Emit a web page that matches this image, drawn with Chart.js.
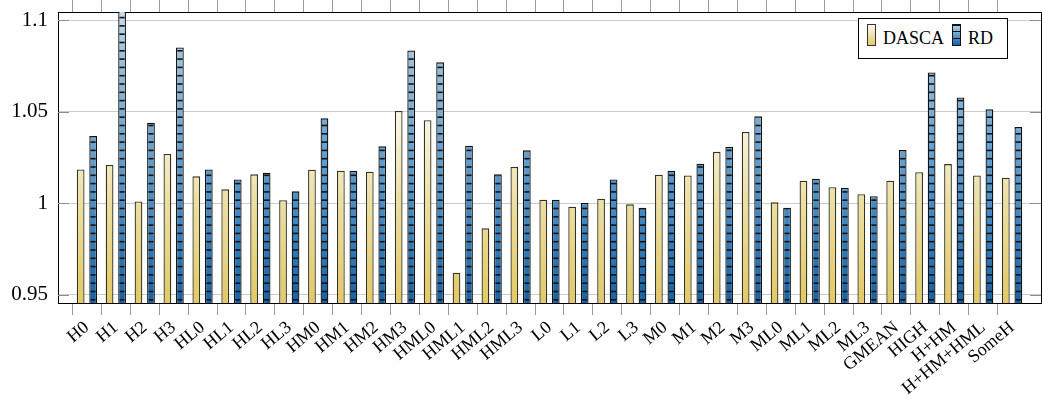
<!DOCTYPE html>
<html><head><meta charset="utf-8">
<script src="https://cdn.jsdelivr.net/npm/chart.js@4/dist/chart.umd.min.js"></script>
<style>
html,body{margin:0;padding:0;background:#fff;}
#wrap{position:relative;width:1042px;height:410px;}
#legend{position:absolute;left:858px;top:18px;width:150px;height:41px;border:1px solid #000;background:#fff;box-sizing:border-box;font-family:'Liberation Serif',serif;font-size:18px;color:#000;}
#legend span{position:absolute;line-height:18px;white-space:nowrap;}
.sw{position:absolute;width:9px;height:22px;border:1px solid #333;box-sizing:border-box;}
#swD{left:8px;top:5px;background:linear-gradient(to top,#e3cb68,#eee2ad 50%,#fbf9f0);}
#swR{left:93px;top:5px;border-color:#111;background:repeating-linear-gradient(to top,rgba(0,0,0,0) 0 5.5px,#111 5.5px 7px),linear-gradient(to top,#1563a6,#b9d3e7);}
</style></head>
<body>
<div id="wrap">
<canvas id="c" width="1042" height="410"></canvas>
<div id="legend">
  <div class="sw" id="swD"></div><span style="left:24px;top:10px">DASCA</span>
  <div class="sw" id="swR"></div><span style="left:109px;top:10px">RD</span>
</div>
</div>
<script>
const categories = ['H0','H1','H2','H3','HL0','HL1','HL2','HL3','HM0','HM1','HM2','HM3','HML0','HML1','HML2','HML3','L0','L1','L2','L3','M0','M1','M2','M3','ML0','ML1','ML2','ML3','GMEAN','HIGH','H+HM','H+HM+HML','SomeH'];
const dasca = [1.0185,1.0209,1.0010,1.0269,1.0147,1.0076,1.0158,1.0017,1.0183,1.0178,1.0172,1.0504,1.0454,0.9620,0.9863,1.0199,1.0019,0.9981,1.0025,0.9994,1.0156,1.0152,1.0281,1.0389,1.0005,1.0123,1.0088,1.0049,1.0123,1.0169,1.0214,1.0152,1.0139];
const rd = [1.0367,1.1150,1.0440,1.0851,1.0185,1.0130,1.0167,1.0065,1.0464,1.0178,1.0311,1.0835,1.0770,1.0314,1.0158,1.0289,1.0019,1.0001,1.0130,0.9976,1.0178,1.0216,1.0309,1.0475,0.9976,1.0134,1.0083,1.0038,1.0291,1.0715,1.0578,1.0513,1.0416];
const yTicks = [0.95, 1, 1.05, 1.1];
const yMin = 0.9455, yMax = 1.1045;

const labels = [''].concat(categories, ['']);
const pad = a => [null].concat(a, [null]);

const cache = {};
function fillFor(kind, chart) {
  const a = chart.chartArea;
  if (!a) return kind === 'd' ? '#eedd99' : '#3b88c0';
  const key = kind + a.top + '_' + a.bottom;
  if (cache[key]) return cache[key];
  const cv = document.createElement('canvas');
  cv.width = 2; cv.height = chart.height;
  const g = cv.getContext('2d');
  const grd = g.createLinearGradient(0, a.bottom, 0, a.top);
  if (kind === 'd') {
    grd.addColorStop(0, '#e2c964'); grd.addColorStop(0.35, '#ecdfa4');
    grd.addColorStop(0.62, '#f8f4e2'); grd.addColorStop(1, '#ffffff');
  } else {
    grd.addColorStop(0, '#1462a6'); grd.addColorStop(0.35, '#4a8ec5');
    grd.addColorStop(0.85, '#9cc2dd'); grd.addColorStop(1, '#c8dbe9');
  }
  g.fillStyle = grd; g.fillRect(0, 0, 2, cv.height);
  if (kind === 'r') {
    g.fillStyle = '#121212';
    for (let y = a.bottom - 4; y > 0; y -= 8.3) g.fillRect(0, y, 2, 1.6);
  }
  const p = chart.ctx.createPattern(cv, 'repeat');
  cache[key] = p;
  return p;
}

const inTicks = {
  id: 'inTicks',
  afterDatasetsDraw(chart) {
    const y = chart.scales.y, a = chart.chartArea, c = chart.ctx;
    c.save(); c.strokeStyle = '#8c8c8c'; c.lineWidth = 1;
    yTicks.forEach(v => {
      const p = Math.round(y.getPixelForValue(v)) + 0.5;
      c.beginPath();
      c.moveTo(a.left, p); c.lineTo(a.left + 11, p);
      c.moveTo(a.right - 11, p); c.lineTo(a.right, p);
      c.stroke();
    });
    c.restore();
  }
};

const xFont = {family: "'Liberation Serif', serif", size: 18};
const yFont = {family: "'Liberation Serif', serif", size: 21};
const edgeTick = ctx => (ctx.index === 0 || ctx.index === labels.length - 1) ? 'rgba(0,0,0,0)' : '#9a9a9a';
const noPad = s => { s.paddingTop = 0; s.paddingBottom = 0; s.paddingLeft = 0; s.paddingRight = 0; };

new Chart(document.getElementById('c'), {
  type: 'bar',
  data: {
    labels,
    datasets: [
      {label: 'DASCA', data: pad(dasca), backgroundColor: c => fillFor('d', c.chart), borderColor: '#35321f', borderWidth: 1.3, clip: 0},
      {label: 'RD', data: pad(rd), backgroundColor: c => fillFor('r', c.chart), borderColor: '#111', borderWidth: 1.3, clip: 0}
    ]
  },
  options: {
    responsive: false, animation: false, devicePixelRatio: 1,
    layout: {padding: 0},
    datasets: {bar: {barPercentage: 0.62, categoryPercentage: 0.865}},
    plugins: {legend: {display: false}, tooltip: {enabled: false}},
    scales: {
      x: {
        type: 'category', position: 'bottom', offset: false, z: 1,
        grid: {drawOnChartArea: false, tickLength: 12, tickColor: edgeTick},
        border: {color: '#000', width: 1},
        ticks: {autoSkip: false, maxRotation: 40, minRotation: 40, padding: 2, color: '#000', font: xFont},
        afterFit: s => { s.height = 107; noPad(s); }
      },
      xTop: {
        type: 'category', position: 'top', offset: false, labels, z: 1,
        grid: {drawOnChartArea: false, tickLength: 12, tickColor: edgeTick},
        border: {color: '#000', width: 1},
        ticks: {display: false},
        afterFit: s => { s.height = 12; noPad(s); }
      },
      y: {
        min: yMin, max: yMax, position: 'left',
        afterBuildTicks: s => { s.ticks = yTicks.map(v => ({value: v})); },
        ticks: {callback: v => String(+Number(v).toFixed(2)), padding: 10, color: '#000', font: yFont},
        grid: {color: '#cccccc', drawTicks: false},
        border: {color: '#000', width: 1},
        afterFit: s => { s.width = 58; noPad(s); }
      },
      yR: {
        min: yMin, max: yMax, position: 'right', z: 1,
        ticks: {display: false},
        grid: {drawOnChartArea: false, drawTicks: false},
        border: {color: '#000', width: 1},
        afterFit: s => { s.width = 1; noPad(s); }
      }
    }
  },
  plugins: [inTicks]
});
</script>
</body></html>
